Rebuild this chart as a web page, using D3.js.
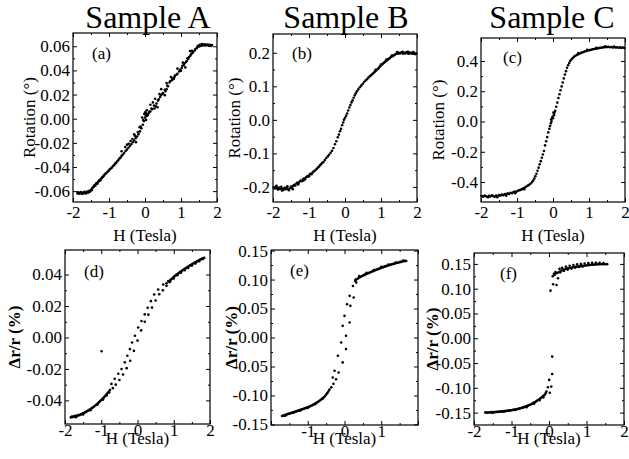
<!DOCTYPE html>
<html>
<head>
<meta charset="utf-8">
<script src="https://cdn.jsdelivr.net/npm/d3@7"></script>
<style>
  body { margin: 0; background: #fff; }
  svg text { font-family: "Liberation Serif", Tinos, "Times New Roman", Times, "DejaVu Serif", serif; fill: #000; }
</style>
</head>
<body>
<svg id="chart" width="629" height="459"></svg>
<script>
// ---- data: [H (Tesla), value] ----

// (a) Sample A, Kerr rotation (deg)
const rotationA = [
  [-1.88,-0.0618],[-1.86,-0.0610],[-1.84,-0.0622],[-1.82,-0.0613],[-1.80,-0.0619],[-1.78,-0.0608],[-1.76,-0.0616],
  [-1.74,-0.0623],[-1.72,-0.0611],[-1.70,-0.0617],[-1.68,-0.0606],[-1.66,-0.0614],[-1.64,-0.0620],[-1.62,-0.0609],
  [-1.60,-0.0603],[-1.58,-0.0612],[-1.56,-0.0600],[-1.54,-0.0607],[-1.52,-0.0596],[-1.50,-0.0588],[-1.48,-0.0592],
  [-1.46,-0.0575],[-1.44,-0.0568],[-1.42,-0.0560],[-1.40,-0.0549],[-1.38,-0.0556],[-1.36,-0.0540],[-1.34,-0.0532],
  [-1.32,-0.0538],[-1.30,-0.0522],[-1.28,-0.0515],[-1.26,-0.0508],[-1.24,-0.0512],[-1.22,-0.0497],[-1.20,-0.0490],
  [-1.18,-0.0484],[-1.16,-0.0477],[-1.14,-0.0470],[-1.12,-0.0463],[-1.10,-0.0456],[-1.07,-0.0450],[-1.04,-0.0440],
  [-1.01,-0.0432],[-0.98,-0.0420],[-0.95,-0.0413],[-0.92,-0.0405],[-0.89,-0.0392],[-0.86,-0.0385],[-0.83,-0.0372],
  [-0.80,-0.0366],[-0.77,-0.0352],[-0.74,-0.0343],[-0.71,-0.0330],[-0.68,-0.0322],[-0.65,-0.0308],[-0.62,-0.0298],
  [-0.58,-0.0285],[-0.54,-0.0268],[-0.50,-0.0255],[-0.46,-0.0240],[-0.42,-0.0226],[-0.38,-0.0212],[-0.34,-0.0195],
  [-0.30,-0.0180],[-0.26,-0.0162],[-0.22,-0.0148],[-0.18,-0.0128],[-0.14,-0.0105],[-0.10,-0.0080],[-0.06,-0.0050],
  [-0.03,-0.0020],[0.00,0.0010],[0.02,0.0030],[0.05,0.0022],
  [-0.55,-0.0235],[-0.45,-0.0208],[-0.35,-0.0168],[-0.28,-0.0142],[-0.20,-0.0110],[-0.12,-0.0065],[-0.05,-0.0010],
  [0.02,0.0045],[0.08,0.0030],[0.12,0.0060],[0.18,0.0085],[0.25,0.0110],[0.30,0.0102],[0.36,0.0150],[0.42,0.0180],
  [0.48,0.0205],[0.55,0.0240],[0.62,0.0275],[0.68,0.0300],[0.75,0.0318],[0.82,0.0345],[0.88,0.0365],[0.95,0.0392],
  [1.02,0.0420],[1.08,0.0445],[1.14,0.0470],[1.20,0.0495],[1.26,0.0522],[1.32,0.0545],[1.38,0.0565],[1.44,0.0585],
  [0.10,0.0045],[0.15,0.0060],[0.20,0.0078],[0.26,0.0085],[0.32,0.0125],[0.38,0.0160],[0.44,0.0195],[0.50,0.0212],
  [0.57,0.0228],[0.64,0.0268],[0.70,0.0312],[0.76,0.0335],[0.83,0.0358],[0.90,0.0372],[0.97,0.0405],[1.04,0.0438],
  [1.10,0.0460],[1.16,0.0478],[1.22,0.0510],[1.28,0.0535],[1.34,0.0555],[1.40,0.0578],[1.46,0.0597],
  [1.48,0.0605],[1.50,0.0598],[1.52,0.0612],[1.54,0.0603],[1.56,0.0610],[1.58,0.0618],[1.60,0.0607],[1.62,0.0614],
  [1.64,0.0609],[1.66,0.0617],[1.68,0.0606],[1.70,0.0613],[1.72,0.0608],[1.74,0.0615],[1.76,0.0610],[1.78,0.0605],
  [1.80,0.0612],[1.82,0.0608],[1.84,0.0603],[1.86,0.0610],
  [-0.40,-0.0185],[-0.15,-0.0070],[0.05,0.0070],[0.22,0.0135],[0.40,0.0205],[0.60,0.0295],[0.80,0.0330],
  [1.00,0.0398],[1.18,0.0500],[1.30,0.0562],
  [-0.02,0.0040],[0.03,-0.0010],[0.01,0.0055],[-0.08,0.0010],[0.15,0.0115],[0.28,0.0165],[0.45,0.0245],
  [0.35,0.0095],[0.55,0.0195],[0.72,0.0345],[0.90,0.0415],[1.05,0.0465],[1.12,0.0425],[1.25,0.0560],
  [0.60,0.0245],[-0.30,-0.0130],[-0.50,-0.0215],[-0.65,-0.0270],[-0.25,-0.0195]
];

// (b) Sample B, Kerr rotation (deg)
const rotationB = [
  [-1.98,-0.201],[-1.95,-0.205],[-1.92,-0.199],[-1.89,-0.204],[-1.86,-0.208],[-1.83,-0.202],[-1.80,-0.206],
  [-1.77,-0.200],[-1.74,-0.205],[-1.71,-0.209],[-1.68,-0.203],[-1.65,-0.207],[-1.62,-0.201],[-1.59,-0.206],
  [-1.56,-0.210],[-1.53,-0.204],[-1.50,-0.199],[-1.47,-0.203],[-1.44,-0.197],[-1.41,-0.194],[-1.38,-0.196],
  [-1.35,-0.190],[-1.32,-0.187],[-1.29,-0.189],[-1.26,-0.184],[-1.23,-0.181],[-1.20,-0.183],[-1.17,-0.178],
  [-1.14,-0.175],[-1.11,-0.177],[-1.08,-0.171],[-1.05,-0.168],[-1.02,-0.169],[-0.99,-0.164],[-0.96,-0.161],
  [-0.93,-0.162],[-0.90,-0.157],[-0.87,-0.154],[-0.84,-0.152],[-0.81,-0.149],[-0.78,-0.146],[-0.75,-0.142],
  [-0.72,-0.139],[-0.69,-0.135],[-0.66,-0.132],[-0.63,-0.128],[-0.60,-0.126],[-0.56,-0.120],[-0.52,-0.114],
  [-0.48,-0.109],[-0.44,-0.104],[-0.40,-0.098],[-0.36,-0.092],[-0.32,-0.084],[-0.28,-0.073],[-0.24,-0.064],
  [-0.20,-0.052],[-0.17,-0.044],[-0.14,-0.034],[-0.11,-0.027],[-0.08,-0.016],[-0.05,-0.008],[-0.03,0.000],
  [0.00,0.006],[0.03,0.012],[0.06,0.019],[0.09,0.028],[0.12,0.037],[0.15,0.044],[0.18,0.052],[0.21,0.058],
  [0.24,0.066],[0.27,0.073],[0.30,0.079],[0.33,0.085],[0.37,0.091],[0.41,0.097],[0.45,0.102],[0.49,0.107],
  [0.53,0.113],[0.57,0.117],[0.61,0.121],[0.65,0.126],[0.69,0.130],[0.72,0.133],[0.75,0.136],[0.78,0.139],
  [0.81,0.142],[0.84,0.145],[0.87,0.148],[0.90,0.151],[0.93,0.154],[0.96,0.158],[0.99,0.161],[1.02,0.164],
  [1.05,0.167],[1.08,0.170],[1.11,0.173],[1.14,0.176],[1.17,0.178],[1.20,0.181],[1.23,0.183],[1.26,0.186],
  [1.29,0.188],[1.32,0.190],[1.35,0.192],[1.38,0.194],[1.41,0.196],[1.44,0.198],[1.47,0.197],[1.50,0.200],
  [1.53,0.198],[1.56,0.201],[1.59,0.199],[1.62,0.197],[1.65,0.200],[1.68,0.198],[1.71,0.202],[1.74,0.199],
  [1.77,0.197],[1.80,0.201],[1.83,0.198],[1.86,0.200],[1.89,0.197],[1.92,0.199],[1.95,0.196],[1.98,0.198],
  [-1.90,-0.197],[-1.75,-0.211],[-1.60,-0.198],[-1.45,-0.207],[-1.30,-0.193],[-1.15,-0.181],[-1.00,-0.168],
  [0.85,0.149],[1.00,0.165],[1.15,0.180],[1.30,0.192],[1.45,0.202],[1.60,0.203],[1.75,0.203],[1.90,0.202]
];

// (c) Sample C, Kerr rotation (deg)
const rotationC = [
  [-1.98,-0.492],[-1.94,-0.497],[-1.90,-0.489],[-1.86,-0.494],[-1.82,-0.499],[-1.78,-0.491],[-1.74,-0.496],
  [-1.70,-0.488],[-1.66,-0.493],[-1.62,-0.498],[-1.58,-0.490],[-1.54,-0.494],[-1.50,-0.486],[-1.46,-0.490],
  [-1.42,-0.482],[-1.38,-0.487],[-1.34,-0.479],[-1.30,-0.483],[-1.26,-0.475],[-1.22,-0.479],[-1.18,-0.471],
  [-1.14,-0.474],[-1.10,-0.466],[-1.06,-0.463],[-1.02,-0.466],[-0.98,-0.458],[-0.94,-0.455],[-0.90,-0.452],
  [-0.86,-0.447],[-0.82,-0.442],[-0.78,-0.436],[-0.74,-0.430],[-0.70,-0.424],[-0.66,-0.418],[-0.62,-0.410],
  [-0.58,-0.400],[-0.55,-0.390],[-0.52,-0.377],[-0.49,-0.362],[-0.46,-0.345],[-0.43,-0.325],[-0.40,-0.305],
  [-0.37,-0.283],[-0.34,-0.262],[-0.31,-0.240],[-0.28,-0.218],[-0.25,-0.195],[-0.22,-0.158],[-0.19,-0.130],
  [-0.16,-0.103],[-0.13,-0.072],[-0.10,-0.048],[-0.08,-0.030],[-0.06,-0.012],[-0.04,0.002],[0.00,0.022],
  [0.02,0.040],[0.04,0.058],[0.06,0.070],[0.09,0.098],[0.12,0.125],[0.15,0.155],[0.18,0.180],[0.21,0.207],
  [0.24,0.232],[0.27,0.258],[0.30,0.285],[0.33,0.310],[0.36,0.333],[0.39,0.355],[0.42,0.372],[0.45,0.387],
  [0.48,0.400],[0.51,0.410],[0.54,0.418],[0.58,0.427],[0.62,0.434],[0.66,0.440],[0.70,0.445],[0.74,0.449],
  [0.78,0.454],[0.82,0.457],[0.86,0.461],[0.90,0.464],[0.94,0.467],[0.98,0.469],[1.02,0.472],[1.06,0.474],
  [1.10,0.477],[1.14,0.479],[1.18,0.481],[1.22,0.483],[1.26,0.485],[1.30,0.487],[1.34,0.488],[1.38,0.490],
  [1.42,0.491],[1.46,0.493],[1.50,0.492],[1.54,0.494],[1.58,0.491],[1.62,0.493],[1.66,0.490],[1.70,0.492],
  [1.74,0.489],[1.78,0.491],[1.82,0.488],[1.86,0.490],[1.90,0.487],[1.94,0.489],[1.98,0.486],
  [-0.05,0.015],[0.03,0.045],[-0.02,0.030],[0.01,0.060],
  [-1.80,-0.501],[-1.55,-0.500],[-1.30,-0.490],[-1.05,-0.474],[-0.80,-0.447],[0.70,0.452],[0.95,0.474],
  [1.20,0.488],[1.45,0.497],[1.70,0.496]
];

// (d) Sample A, dr/r (%)
const resistD = [
  [-1.84,-0.0508],[-1.81,-0.0503],[-1.78,-0.0506],[-1.75,-0.0500],[-1.72,-0.0502],[-1.69,-0.0497],[-1.66,-0.0499],
  [-1.63,-0.0493],[-1.60,-0.0494],[-1.57,-0.0489],[-1.54,-0.0487],[-1.51,-0.0482],[-1.48,-0.0481],[-1.45,-0.0476],
  [-1.42,-0.0473],[-1.39,-0.0468],[-1.36,-0.0465],[-1.33,-0.0460],[-1.30,-0.0456],[-1.27,-0.0451],[-1.24,-0.0446],
  [-1.21,-0.0441],[-1.18,-0.0436],[-1.15,-0.0430],[-1.12,-0.0424],[-1.09,-0.0417],[-1.06,-0.0411],[-1.03,-0.0404],
  [-1.00,-0.0398],[-0.97,-0.0392],[-0.94,-0.0384],[-0.91,-0.0377],[-0.88,-0.0369],[-0.85,-0.0360],[-0.82,-0.0352],
  [-0.79,-0.0343],[-0.76,-0.0334],
  [-1.70,-0.0507],[-1.50,-0.0490],[-1.30,-0.0463],[-1.10,-0.0426],[-0.95,-0.0395],[-0.85,-0.0368],[-0.78,-0.0350],
  [-0.72,-0.0295],[-0.63,-0.0263],[-0.53,-0.0231],[-0.44,-0.0200],[-0.35,-0.0158],[-0.28,-0.0116],[-0.21,-0.0074],
  [-0.15,-0.0032],[-0.07,0.0011],[0.02,0.0063],[0.11,0.0105],[0.20,0.0147],[0.28,0.0189],[0.37,0.0231],
  [0.46,0.0273],[0.57,0.0305],[0.71,0.0337],
  [-0.68,-0.0322],[-0.60,-0.0300],[-0.50,-0.0270],[-0.40,-0.0235],[-0.30,-0.0195],[-0.20,-0.0148],[-0.10,-0.0085],
  [0.00,-0.0020],[0.10,0.0045],[0.20,0.0100],[0.30,0.0145],[0.40,0.0190],[0.50,0.0235],[0.60,0.0275],
  [0.70,0.0300],[0.80,0.0328],
  [0.80,0.0345],[0.85,0.0358],[0.88,0.0352],[0.91,0.0366],[0.94,0.0372],[0.97,0.0378],[1.00,0.0385],[1.03,0.0390],
  [1.06,0.0396],[1.09,0.0401],[1.12,0.0407],[1.15,0.0411],[1.18,0.0417],[1.21,0.0421],[1.24,0.0427],[1.27,0.0431],
  [1.30,0.0436],[1.33,0.0440],[1.36,0.0445],[1.39,0.0449],[1.42,0.0454],[1.45,0.0458],[1.48,0.0462],[1.51,0.0466],
  [1.54,0.0470],[1.57,0.0474],[1.60,0.0478],[1.63,0.0482],[1.66,0.0486],[1.69,0.0490],[1.72,0.0494],[1.75,0.0497],
  [1.78,0.0501],[1.81,0.0504],[1.84,0.0507],
  [0.90,0.0355],[1.00,0.0375],[1.10,0.0396],[1.20,0.0412],[1.30,0.0428],[1.40,0.0442],[1.50,0.0457],[1.60,0.0470],
  [1.70,0.0485],[1.80,0.0498],
  [-0.99,-0.0088]
];

// (e) Sample B, dr/r (%)
const resistE = [
  [-1.70,-0.1355],[-1.67,-0.1345],[-1.64,-0.1350],[-1.61,-0.1335],[-1.58,-0.1330],[-1.55,-0.1322],[-1.52,-0.1318],
  [-1.49,-0.1310],[-1.46,-0.1305],[-1.43,-0.1298],[-1.40,-0.1292],[-1.37,-0.1288],[-1.34,-0.1280],[-1.31,-0.1275],
  [-1.28,-0.1266],[-1.25,-0.1262],[-1.22,-0.1254],[-1.19,-0.1248],[-1.16,-0.1241],[-1.13,-0.1234],[-1.10,-0.1228],
  [-1.07,-0.1221],[-1.04,-0.1214],[-1.01,-0.1207],[-0.98,-0.1200],[-0.95,-0.1190],[-0.92,-0.1182],[-0.89,-0.1172],
  [-0.86,-0.1163],[-0.83,-0.1152],[-0.80,-0.1141],[-0.77,-0.1130],[-0.74,-0.1118],[-0.71,-0.1105],[-0.68,-0.1092],
  [-0.65,-0.1078],[-0.62,-0.1062],[-0.59,-0.1046],[-0.56,-0.1030],[-0.53,-0.1010],[-0.50,-0.0985],[-0.47,-0.0960],
  [-0.44,-0.0932],[-0.41,-0.0900],
  [-1.60,-0.1345],[-1.40,-0.1300],[-1.20,-0.1258],[-1.00,-0.1215],[-0.80,-0.1150],[-0.60,-0.1060],
  [-0.36,-0.0860],[-0.32,-0.0690],[-0.27,-0.0574],[-0.18,-0.0316],[-0.09,-0.0086],[-0.05,0.0201],[0.00,0.0374],
  [0.07,0.0575],[0.14,0.0719],[0.23,0.0890],[0.29,0.0977],
  [-0.30,-0.0800],[-0.23,-0.0720],[-0.16,-0.0603],[-0.05,-0.0430],[0.04,-0.0200],[0.04,0.0030],[0.14,0.0260],
  [0.16,0.0546],[0.25,0.0690],[0.32,0.0950],
  [0.30,0.0995],[0.33,0.1005],[0.36,0.1015],[0.39,0.1030],[0.42,0.1040],[0.45,0.1052],[0.48,0.1062],[0.51,0.1072],
  [0.54,0.1080],[0.57,0.1090],[0.60,0.1098],[0.63,0.1105],[0.66,0.1114],[0.69,0.1122],[0.72,0.1130],[0.75,0.1138],
  [0.78,0.1146],[0.81,0.1155],[0.84,0.1162],[0.87,0.1170],[0.90,0.1177],[0.93,0.1184],[0.96,0.1192],[0.99,0.1200],
  [1.02,0.1208],[1.05,0.1214],[1.08,0.1220],[1.11,0.1227],[1.14,0.1233],[1.17,0.1240],[1.20,0.1246],[1.23,0.1252],
  [1.26,0.1258],[1.29,0.1263],[1.32,0.1268],[1.35,0.1275],[1.38,0.1280],[1.41,0.1286],[1.44,0.1290],[1.47,0.1295],
  [1.50,0.1300],[1.53,0.1305],[1.56,0.1310],[1.59,0.1315],[1.62,0.1318],[1.65,0.1322],[1.68,0.1320],
  [0.40,0.1060],[0.60,0.1115],[0.80,0.1165],[1.00,0.1220],[1.20,0.1258],[1.40,0.1295],[1.60,0.1328]
];

// (f) Sample C, dr/r (%)
const resistF = [
  [-1.70,-0.1500],[-1.67,-0.1495],[-1.64,-0.1502],[-1.61,-0.1497],[-1.58,-0.1492],[-1.55,-0.1498],[-1.52,-0.1490],
  [-1.49,-0.1494],[-1.46,-0.1487],[-1.43,-0.1491],[-1.40,-0.1484],[-1.37,-0.1488],[-1.34,-0.1480],[-1.31,-0.1484],
  [-1.28,-0.1476],[-1.25,-0.1479],[-1.22,-0.1471],[-1.19,-0.1474],[-1.16,-0.1466],[-1.13,-0.1468],[-1.10,-0.1460],
  [-1.07,-0.1461],[-1.04,-0.1454],[-1.01,-0.1454],[-0.98,-0.1447],[-0.95,-0.1445],[-0.92,-0.1439],[-0.89,-0.1436],
  [-0.86,-0.1430],[-0.83,-0.1426],[-0.80,-0.1420],[-0.77,-0.1414],[-0.74,-0.1408],[-0.71,-0.1400],[-0.68,-0.1394],
  [-0.65,-0.1385],[-0.62,-0.1378],[-0.59,-0.1367],[-0.56,-0.1360],[-0.53,-0.1348],[-0.50,-0.1340],[-0.47,-0.1327],
  [-0.44,-0.1318],[-0.41,-0.1303],[-0.38,-0.1293],[-0.35,-0.1276],[-0.32,-0.1262],[-0.29,-0.1245],[-0.26,-0.1230],
  [-0.23,-0.1212],[-0.20,-0.1195],[-0.17,-0.1178],[-0.14,-0.1155],[-0.11,-0.1135],[-0.09,-0.1110],
  [-1.50,-0.1505],[-1.20,-0.1482],[-0.90,-0.1448],[-0.60,-0.1390],[-0.40,-0.1322],[-0.25,-0.1252],[-0.15,-0.1192],
  [-0.07,-0.1076],[-0.03,-0.0988],[0.005,-0.0840],[0.06,-0.0975],[0.085,-0.0720],[0.085,-0.0370],[0.02,-0.1100],
  [0.04,0.0960],[0.11,0.1090],[0.20,0.1075],[0.24,0.1210],[0.13,0.1300],[0.17,0.1335],[0.10,0.1250],[0.15,0.1280],
  [0.20,0.1310],[0.25,0.1330],[0.31,0.1363],[0.35,0.1370],[0.40,0.1385],[0.45,0.1398],[0.50,0.1410],[0.55,0.1418],
  [0.60,0.1425],[0.65,0.1432],[0.70,0.1440],[0.75,0.1444],[0.80,0.1450],[0.85,0.1455],[0.90,0.1460],[0.95,0.1465],
  [1.00,0.1470],[1.05,0.1474],[1.10,0.1478],[1.15,0.1482],[1.20,0.1485],[1.25,0.1488],[1.30,0.1490],[1.35,0.1492],
  [1.40,0.1494],[1.45,0.1495],[1.50,0.1494],[1.55,0.1495],
  [0.28,0.1400],[0.35,0.1420],[0.45,0.1445],[0.55,0.1462],[0.65,0.1478],[0.75,0.1490],[0.85,0.1500],[0.95,0.1508],
  [1.05,0.1515],[1.15,0.1520],[1.25,0.1522],[1.35,0.1520],[1.45,0.1515],
  [0.30,0.1330],[0.40,0.1360],[0.50,0.1385],[0.60,0.1405],[0.70,0.1425],[0.80,0.1438],[0.90,0.1450]
];

// ---- titles and tick labels ----
const sampleTitles = ["Sample A", "Sample B", "Sample C"];
const fieldTicks = [-2, -1, 0, 1, 2];
const fieldMinor = [-1.5, -0.5, 0.5, 1.5];
const fieldLabelsE = [-1, 0, 1];
const rotTicksA = [-0.06, -0.04, -0.02, 0, 0.02, 0.04, 0.06];
const rotTicksB = [-0.2, -0.1, 0, 0.1, 0.2];
const rotTicksC = [-0.4, -0.2, 0, 0.2, 0.4];
const resTicksD = [-0.04, -0.02, 0, 0.02, 0.04];
const resTicksEF = [-0.15, -0.10, -0.05, 0, 0.05, 0.10, 0.15];

const serif = '"Liberation Serif", Tinos, "Times New Roman", Times, "DejaVu Serif", serif';
const svg = d3.select("#chart").attr("font-family", serif);
const fontSize = 17;

// hyphen instead of the unicode minus d3 uses
const fmt = spec => d => d3.format(spec)(d).replace("\u2212", "-");

// layout of the six frames
const panels = [
  { data: rotationA, tag: "(a)", left: 73, right: 217, top: 33, bottom: 202, yDomain: [-0.069, 0.071],
    yTicks: rotTicksA, yFmt: ".2f", xLabels: fieldTicks, yTitle: "Rotation (\u00b0)", yTitleX: 29, yTitleBold: false,
    tagX: 92, tagY: 59, xPad: 4, xTitleY: 241 },
  { data: rotationB, tag: "(b)", left: 273, right: 417, top: 34, bottom: 202, yDomain: [-0.245, 0.256],
    yTicks: rotTicksB, yFmt: ".1f", xLabels: fieldTicks, yTitle: "Rotation (\u00b0)", yTitleX: 234, yTitleBold: false,
    tagX: 292, tagY: 59, xPad: 4, xTitleY: 241 },
  { data: rotationC, tag: "(c)", left: 481, right: 625, top: 38, bottom: 202, yDomain: [-0.532, 0.552],
    yTicks: rotTicksC, yFmt: ".1f", xLabels: fieldTicks, yTitle: "Rotation (\u00b0)", yTitleX: 438, yTitleBold: false,
    tagX: 503, tagY: 63, xPad: 4, xTitleY: 241 },
  { data: resistD, tag: "(d)", left: 65, right: 210, top: 250, bottom: 424, yDomain: [-0.055, 0.0556],
    yTicks: resTicksD, yFmt: ".2f", xLabels: fieldTicks, yTitle: "\u0394r/r (%)", yTitleX: 14, yTitleBold: true,
    tagX: 84, tagY: 277, xPad: 0, xTitleY: 444 },
  { data: resistE, tag: "(e)", left: 271, right: 418, top: 250, bottom: 425, yDomain: [-0.151, 0.151],
    yTicks: resTicksEF, yFmt: ".2f", xLabels: fieldLabelsE, yTitle: "\u0394r/r (%)", yTitleX: 231, yTitleBold: true,
    tagX: 290, tagY: 276, xPad: 0, xTitleY: 444 },
  { data: resistF, tag: "(f)", left: 474, right: 624, top: 253, bottom: 425, yDomain: [-0.175, 0.172],
    yTicks: resTicksEF, yFmt: ".2f", xLabels: fieldTicks, yTitle: "\u0394r/r (%)", yTitleX: 432, yTitleBold: true,
    tagX: 500, tagY: 279, xPad: 0, xTitleY: 444 }
];

function styleAxis(g) {
  g.attr("font-family", serif);
  g.select(".domain").remove();
  g.selectAll("line").attr("stroke", "#000");
  g.selectAll("text").attr("font-size", fontSize).attr("fill", "#000");
}

function drawPanel(p) {
  const g = svg.append("g");
  const x = d3.scaleLinear().domain([-2, 2]).range([p.left, p.right]);
  const y = d3.scaleLinear().domain(p.yDomain).range([p.bottom, p.top]);
  const yMinor = d3.pairs(p.yTicks).map(([a, b]) => (a + b) / 2);
  const yFormat = fmt(p.yFmt);
  const xFormat = fmt("d");

  // labelled axes, ticks pointing inwards
  g.append("g").attr("transform", `translate(0,${p.bottom})`)
    .call(d3.axisBottom(x).tickValues(fieldTicks).tickSize(-4).tickPadding(p.xPad)
      .tickFormat(d => p.xLabels.includes(d) ? xFormat(d) : ""))
    .call(styleAxis);
  g.append("g").attr("transform", `translate(${p.left},0)`)
    .call(d3.axisLeft(y).tickValues(p.yTicks).tickSize(-4).tickPadding(3).tickFormat(yFormat))
    .call(styleAxis);

  // mirrored ticks on top and right
  g.append("g").attr("transform", `translate(0,${p.top})`)
    .call(d3.axisTop(x).tickValues(fieldTicks).tickSize(-4).tickFormat(""))
    .call(styleAxis);
  g.append("g").attr("transform", `translate(${p.right},0)`)
    .call(d3.axisRight(y).tickValues(p.yTicks).tickSize(-4).tickFormat(""))
    .call(styleAxis);

  // minor ticks
  [[d3.axisBottom(x).tickValues(fieldMinor), `translate(0,${p.bottom})`],
   [d3.axisTop(x).tickValues(fieldMinor), `translate(0,${p.top})`],
   [d3.axisLeft(y).tickValues(yMinor), `translate(${p.left},0)`],
   [d3.axisRight(y).tickValues(yMinor), `translate(${p.right},0)`]
  ].forEach(([ax, tr]) => {
    g.append("g").attr("transform", tr).call(ax.tickSize(-2).tickFormat("")).call(styleAxis);
  });

  // frame
  g.append("rect")
    .attr("x", p.left).attr("y", p.top)
    .attr("width", p.right - p.left).attr("height", p.bottom - p.top)
    .attr("fill", "none").attr("stroke", "#000").attr("stroke-width", 1.2);

  // points
  g.append("g").selectAll("circle")
    .data(p.data)
    .join("circle")
    .attr("cx", d => x(d[0]))
    .attr("cy", d => y(d[1]))
    .attr("r", 1.3)
    .attr("fill", "#000");

  // panel tag
  g.append("text").attr("x", p.tagX).attr("y", p.tagY)
    .attr("font-size", fontSize).text(p.tag);

  // axis titles
  g.append("text")
    .attr("x", (p.left + p.right) / 2).attr("y", p.xTitleY)
    .attr("text-anchor", "middle").attr("font-size", fontSize)
    .text("H (Tesla)");
  g.append("text")
    .attr("transform", `translate(${p.yTitleX},${(p.top + p.bottom) / 2}) rotate(-90)`)
    .attr("text-anchor", "middle").attr("dy", "0.35em")
    .attr("font-size", fontSize)
    .attr("font-weight", p.yTitleBold ? "bold" : "normal")
    .text(p.yTitle);
}

panels.forEach(drawPanel);

// sample headings over the columns
const titleX = [148, 346, 552];
svg.selectAll("text.sample")
  .data(sampleTitles)
  .join("text")
  .attr("class", "sample")
  .attr("x", (d, i) => titleX[i])
  .attr("y", 28)
  .attr("text-anchor", "middle")
  .attr("font-size", 32)
  .text(d => d);
</script>
</body>
</html>
